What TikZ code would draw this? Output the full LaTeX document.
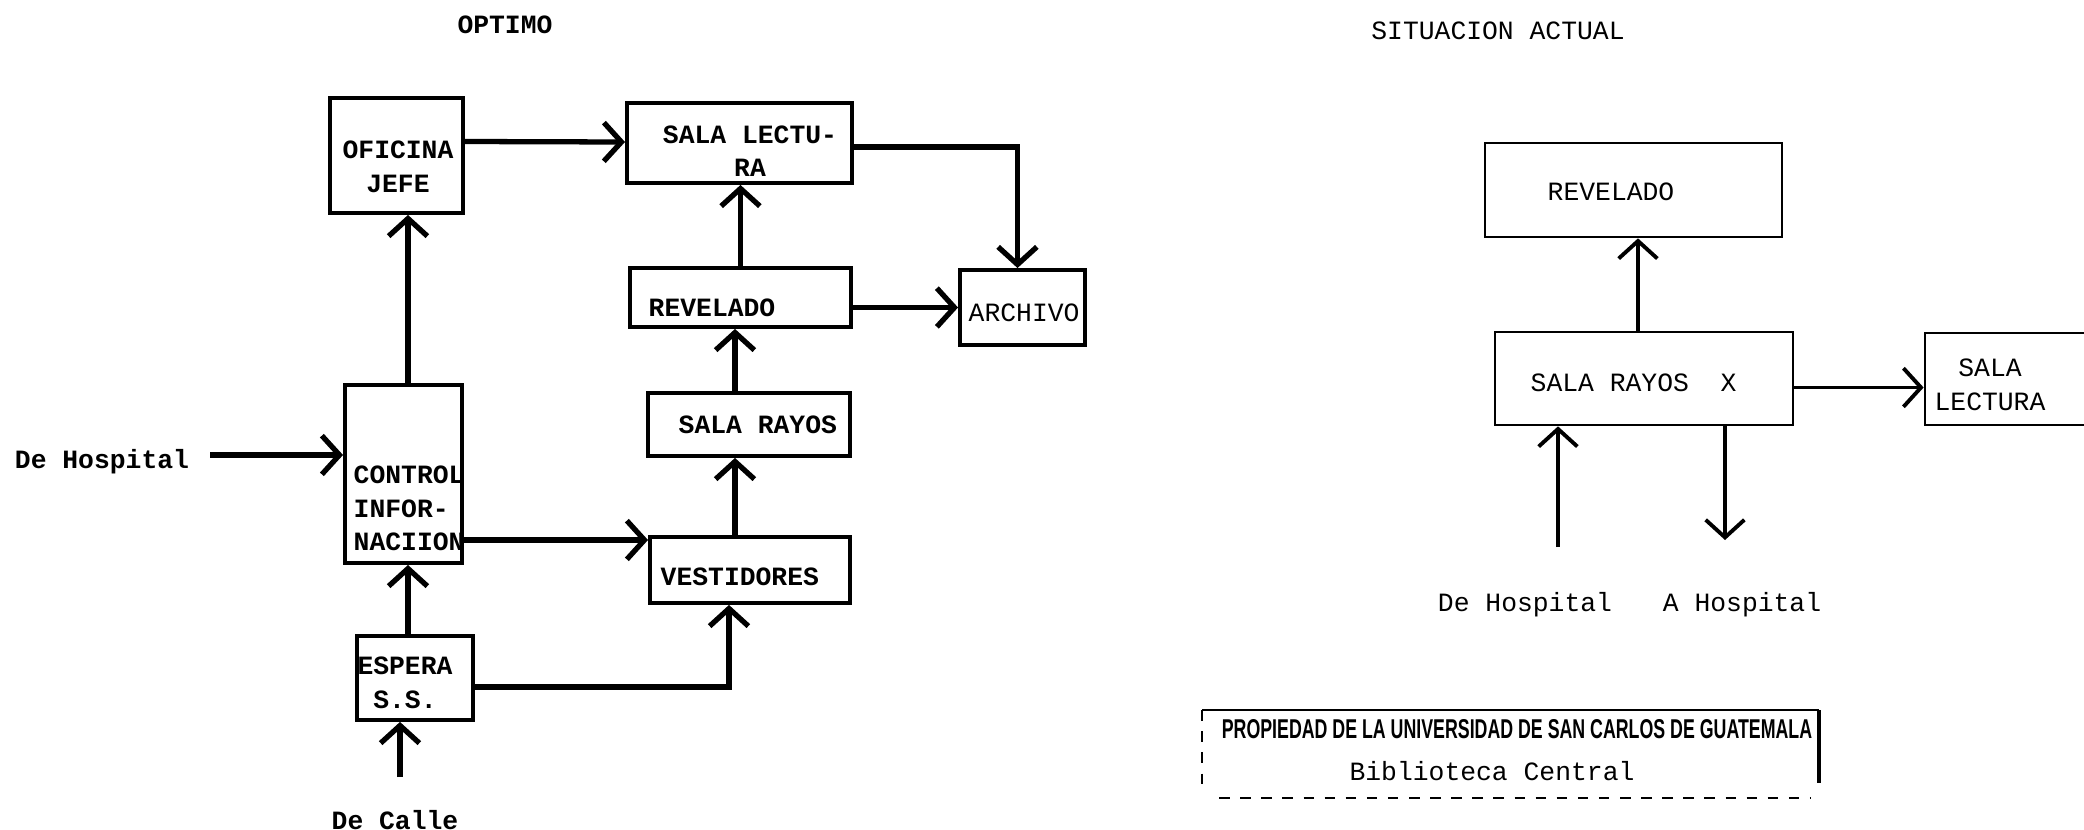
\documentclass[tikz,border=0pt]{standalone}
\usepackage{fontspec}
\usepackage{graphicx}
\newfontfamily\typer{Liberation Mono}
\newfontfamily\stampf{Liberation Sans}
\usetikzlibrary{arrows.meta,calc}

\tikzset{
  box/.style={draw, line width=1.1pt, inner sep=0pt},
  thinbox/.style={draw, line width=0.75pt, inner sep=0pt},
  flow/.style={line width=1.5pt, -{Straight Barb[length=5pt,width=11pt]}},
  thinflow/.style={line width=1.1pt, -{Straight Barb[length=5pt,width=11pt]}},
  bold txt/.style={font=\typer\bfseries\fontsize{7.5}{9.5}\selectfont, inner sep=0pt},
  plain txt/.style={font=\typer\fontsize{7.5}{9.5}\selectfont, inner sep=0pt}
}

\begin{document}
\begin{tikzpicture}[x=0.01cm, y=-0.01cm]
  \useasboundingbox (0,0) rectangle (2084,830);

  % titles
  \node[bold txt] (tOpt) at (505,25) {OPTIMO};
  \node[plain txt] (tAct) at (1498,31) {SITUACION ACTUAL};

  % optimo: boxes
  \node[box, minimum width=1.33cm, minimum height=1.15cm] (ofic) at (396.5,155.5) {};
  \node[box, minimum width=2.25cm, minimum height=0.80cm] (lect) at (739.5,143) {};
  \node[box, minimum width=2.21cm, minimum height=0.59cm] (rev) at (740.5,297.5) {};
  \node[box, minimum width=1.25cm, minimum height=0.75cm] (arch) at (1022.5,307.5) {};
  \node[box, minimum width=2.02cm, minimum height=0.63cm] (rayos) at (749,424.5) {};
  \node[box, minimum width=1.17cm, minimum height=1.78cm] (ctrl) at (403.5,474) {};
  \node[box, minimum width=2.00cm, minimum height=0.66cm] (vest) at (750,570) {};
  \node[box, minimum width=1.16cm, minimum height=0.84cm] (esp) at (415,678) {};

  % optimo: texts
  \node[bold txt, align=center] (oficT) at (398,167) {OFICINA\\JEFE};
  \node[bold txt, align=center] (lectT) at (750,151) {SALA LECTU-\\RA};
  \node[bold txt, anchor=west] (revT) at (648,308) {REVELADO};
  \node[plain txt, anchor=west] (archT) at (968,313) {ARCHIVO};
  \node[bold txt, anchor=west] (rayosT) at (678,425) {SALA RAYOS};
  \node[bold txt, anchor=west, align=left] (ctrlT) at (353,508.5) {CONTROL\\INFOR-\\NACIION};
  \node[bold txt, anchor=west] (vestT) at (660,577) {VESTIDORES};
  \node[bold txt, align=center] (espT) at (405,683) {ESPERA\\S.S.};

  \node[bold txt] (dhosp) at (102,462) {De Hospital};
  \node[bold txt] (dcalle) at (395,820) {De Calle};
  \coordinate (hin) at (210,455);
  \coordinate (cin) at (400,777);

  % optimo: flows
  \draw[flow] (hin) -- (hin -| ctrl.west);
  \draw[flow] (cin) -- (cin |- esp.south);
  \draw[flow] ($(esp.north)+(-7,0)$) -- ($(ctrl.south)+(4.5,0)$);
  \draw[flow] ($(ctrl.north)+(4.5,0)$) -- ($(ofic.south)+(11.5,0)$);
  \draw[flow] ($(ofic.east)+(0,-14)$) -- ($(lect.west)+(0,-1)$);
  \draw[flow] ($(lect.east)+(0,4)$) -| ($(arch.north)+(-5,0)$);
  \draw[flow] (rev.north) -- (rev.north |- lect.south);
  \draw[flow] (rev.east |- arch) -- (arch.west);
  \draw[flow] ($(rayos.north)+(-14,0)$) -- ($(rev.south)+(-5.5,0)$);
  \draw[flow] ($(vest.north)+(-15,0)$) -- ($(rayos.south)+(-14,0)$);
  \draw[flow] ($(ctrl.east)+(0,66)$) -- ($(vest.west)+(0,-30)$);
  \draw[flow] ($(esp.east)+(0,9)$) -| ($(vest.south)+(-21,0)$);

  % situacion actual: boxes
  \node[thinbox, minimum width=2.97cm, minimum height=0.94cm] (rev2) at (1633.5,190) {};
  \node[thinbox, minimum width=2.98cm, minimum height=0.93cm] (rayx) at (1644,378.5) {};
  \node[thinbox, minimum width=2.00cm, minimum height=0.92cm] (lect2) at (2025,379) {};

  \node[plain txt, anchor=west] (rev2T) at (1547,192) {REVELADO};
  \node[plain txt, anchor=west] (rayxT) at (1530,383) {SALA RAYOS\ \ X};
  \node[plain txt, align=center] (lect2T) at (1990,385) {SALA\\LECTURA};

  \coordinate (dhin) at (1558,547);
  \coordinate (aout) at (1725,540);
  \node[plain txt] (dhosp2) at (1525,605) {De Hospital};
  \node[plain txt] (ahosp2) at (1742,605) {A Hospital};

  % situacion actual: flows
  \draw[thinflow] ($(rayx.north)+(-6,0)$) -- ($(rev2.south)+(4.5,0)$);
  \draw[thinflow] ($(rayx.east)+(0,9)$) -- ($(lect2.west)+(0,8.5)$);
  \draw[thinflow] (dhin) -- (dhin |- rayx.south);
  \draw[thinflow] (aout |- rayx.south) -- (aout);

  % stamp
  \node[minimum width=6.15cm, minimum height=0.86cm, inner sep=0pt] (stamp) at (1510.5,754) {};
  \node[inner sep=0pt] (stampA) at (1517,729)
    {\resizebox{5.9cm}{0.19cm}{\stampf\bfseries PROPIEDAD DE LA UNIVERSIDAD DE SAN CARLOS DE GUATEMALA}};
  \node[plain txt] (stampB) at (1492,771) {Biblioteca Central};
  \draw[line width=0.6pt] (stamp.north west) -- (stamp.north east);
  \draw[line width=1.1pt] (stamp.north east) -- ($(stamp.south east)+(0,-15)$);
  \draw[line width=0.5pt, dashed] (stamp.north west) -- ($(stamp.south west)+(0,-7)$);
  \draw[line width=0.7pt, dashed] ($(stamp.south west)+(17,0)$) -- ($(stamp.south east)+(-8,0)$);
\end{tikzpicture}
\end{document}
